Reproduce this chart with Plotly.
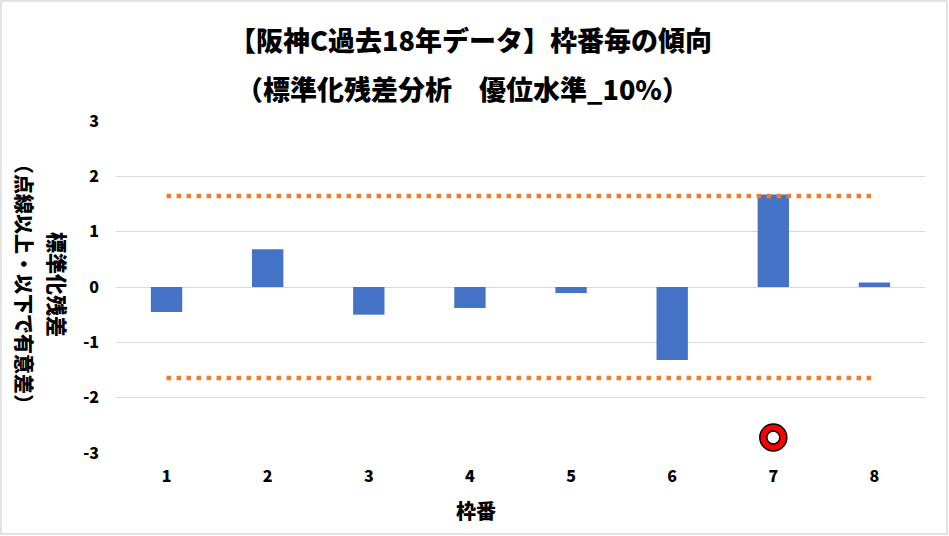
import plotly.graph_objects as go

# ---- data ----
waku = [1, 2, 3, 4, 5, 6, 7, 8]
std_resid = [-0.45, 0.68, -0.50, -0.38, -0.11, -1.32, 1.67, 0.08]
upper_limit = [1.645] * 8
lower_limit = [-1.645] * 8
mark_x = [7]
mark_y = [-2.72]
y_ticks = [3, 2, 1, 0, -1, -2, -3]

title1 = "【阪神C過去18年データ】枠番毎の傾向"
title2 = "（標準化残差分析　優位水準_10%）"
ytitle1 = "標準化残差"
ytitle2 = "（点線以上・以下で有意差）"
xtitle = "枠番"

W, H = 949, 536
L, R, T, B = 116, 24, 121, 83
PW, PH = W - L - R, H - T - B


def px(x):
    return (x - L) / PW


def py(y):
    return 1 - (y - T) / PH


FONT = "Noto Sans CJK JP"
BLUE = "#4472C4"
ORANGE = "#ED7D31"
GRID = "#D9D9D9"
WT = 900


def f(size):
    return dict(size=size, color="black", family=FONT, weight=WT)


fig = go.Figure()

fig.add_trace(go.Bar(x=waku, y=std_resid, width=0.31, marker=dict(color=BLUE, line=dict(width=0)),
                     hoverinfo="skip"))
for lim in (upper_limit, lower_limit):
    fig.add_trace(go.Scatter(x=waku, y=lim, mode="lines",
                             line=dict(color=ORANGE, width=4.5, dash="4.5px,5.5px"),
                             hoverinfo="skip"))

fig.add_trace(go.Scatter(x=mark_x, y=mark_y, mode="markers",
                         marker=dict(symbol="circle", size=27, color="#FF0000",
                                     line=dict(color="black", width=1.5)), hoverinfo="skip"))
fig.add_trace(go.Scatter(x=mark_x, y=mark_y, mode="markers",
                         marker=dict(symbol="circle", size=13, color="white",
                                     line=dict(color="black", width=1.5)), hoverinfo="skip"))

annotations = [
    dict(text=title1, x=px(470), y=py(39), font=f(27)),
    dict(text=title2, x=px(462), y=py(88), font=f(27)),
    dict(text=ytitle1, x=px(58), y=py(284), textangle=90, font=f(21)),
    dict(text=ytitle2, x=px(25), y=py(284), textangle=90, font=f(20)),
    dict(text=xtitle, x=px(476), y=py(510), font=f(20)),
]
for a in annotations:
    a.update(xref="paper", yref="paper", showarrow=False, xanchor="center", yanchor="middle")

fig.update_layout(
    width=W, height=H,
    margin=dict(l=L, r=R, t=T, b=B, pad=0),
    paper_bgcolor="white", plot_bgcolor="white",
    showlegend=False,
    annotations=annotations,
    font=dict(family=FONT, color="black"),
    shapes=[dict(type="rect", xref="paper", yref="paper",
                 x0=px(1), x1=px(W - 2), y0=py(H - 2), y1=py(1),
                 line=dict(color=GRID, width=1.5), fillcolor="rgba(0,0,0,0)", layer="below")],
    xaxis=dict(range=[0.5, 8.5], tickvals=waku, ticktext=[str(v) for v in waku],
               showgrid=False, zeroline=False, showline=False, ticks="",
               tickfont=f(16), ticklabelstandoff=12, fixedrange=True),
    yaxis=dict(range=[-3, 3], tickvals=y_ticks, ticktext=[str(v) for v in y_ticks],
               showgrid=True, gridcolor=GRID, gridwidth=1.3, zeroline=False, showline=False, ticks="",
               tickfont=f(16), ticklabelstandoff=16, fixedrange=True),
)

fig.write_html("out.html", config={"displayModeBar": False},
               post_script="document.body.style.margin='0';document.body.style.overflow='hidden';")
